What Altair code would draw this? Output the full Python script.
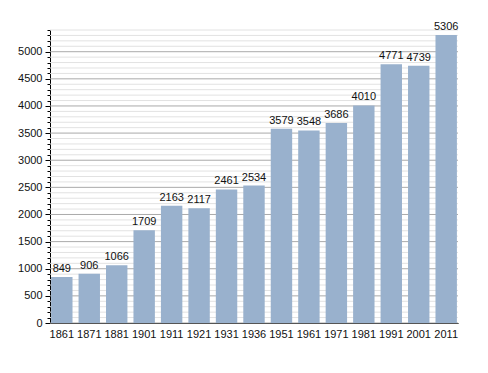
import altair as alt
import pandas as pd

years = ["1861", "1871", "1881", "1901", "1911", "1921", "1931", "1936",
         "1951", "1961", "1971", "1981", "1991", "2001", "2011"]
population = [849, 906, 1066, 1709, 2163, 2117, 2461, 2534,
              3579, 3548, 3686, 4010, 4771, 4739, 5306]
grid_values = list(range(0, 5401, 100))

df = pd.DataFrame({"year": years, "pop": population})
grid = pd.DataFrame({"v": grid_values})
grid["major"] = [1 if v % 500 == 0 else 0 for v in grid_values]

yscale = alt.Scale(domain=[0, 5400], nice=False)
xscale = alt.Scale(paddingInner=0.22, paddingOuter=0.04)
yaxis = alt.Axis(title=None, values=grid_values, grid=False,
                 labelOverlap=False,
                 labelExpr="datum.value % 500 == 0 ? datum.value : ''",
                 tickSize={"condition": {"test": "datum.value % 500 == 0", "value": 5}, "value": 3},
                 tickColor="#000", domainColor="#000", labelColor="#111",
                 labelFont="Liberation Sans", labelFontSize=11,
                 labelPadding=3)
xaxis = alt.Axis(title=None, labelAngle=0, ticks=False, domainColor="#000",
                 labelColor="#111", labelFont="Liberation Sans",
                 labelFontSize=11, labelPadding=5, labelOverlap=False)

minor = alt.Chart(grid).transform_filter("datum.major == 0").mark_rule(
    color="#e2e2e2", strokeWidth=1
).encode(y=alt.Y("v:Q", scale=yscale, axis=yaxis))
major = alt.Chart(grid).transform_filter("datum.major == 1").mark_rule(
    color="#aaaaaa", strokeWidth=1
).encode(y=alt.Y("v:Q", scale=yscale, axis=yaxis))

bars = alt.Chart(df).mark_bar(color="#99b1cd").encode(
    x=alt.X("year:N", sort=years, scale=xscale, axis=xaxis),
    y=alt.Y("pop:Q", scale=yscale, axis=yaxis),
)
labels = alt.Chart(df).mark_text(
    baseline="bottom", dy=-3, font="Liberation Sans", fontSize=11, color="#111"
).encode(x=alt.X("year:N", sort=years, scale=xscale, axis=xaxis),
         y=alt.Y("pop:Q", scale=yscale, axis=yaxis),
         text="pop:Q")

chart = alt.layer(minor, major, bars, labels).properties(
    width=408, height=293,
    autosize=alt.AutoSizeParams(type="none"),
    padding={"left": 42, "top": 22, "right": 22, "bottom": 42},
).configure_view(stroke=None)

chart.save("out.html", embed_options={"renderer": "svg", "actions": False})
